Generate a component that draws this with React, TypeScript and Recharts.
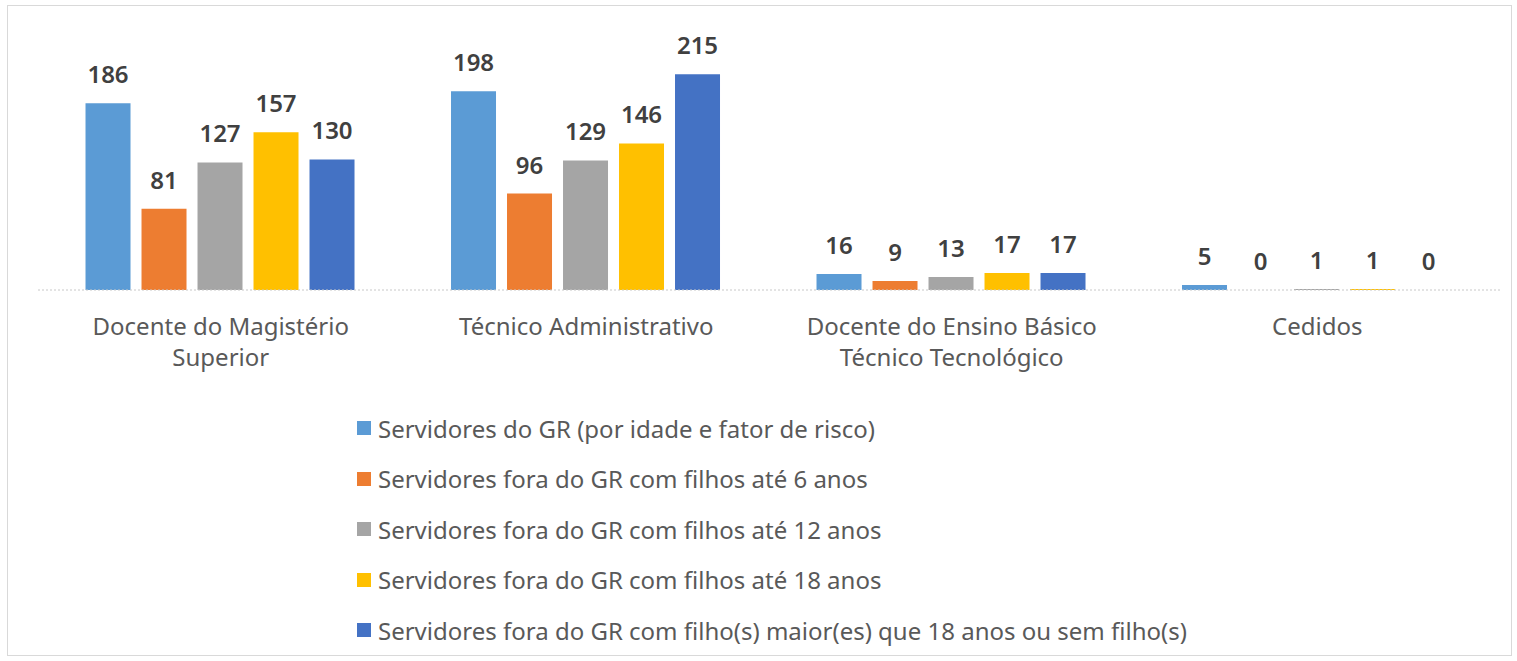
import React from 'react';
import { BarChart, Bar, XAxis, YAxis, LabelList, Legend } from 'recharts';

const categories = [
  'Docente do Magistério Superior',
  'Técnico Administrativo',
  'Docente do Ensino Básico Técnico Tecnológico',
  'Cedidos',
];

const tickLines = [
  ['Docente do Magistério', 'Superior'],
  ['Técnico Administrativo'],
  ['Docente do Ensino Básico', 'Técnico Tecnológico'],
  ['Cedidos'],
];

const seriesNames = [
  'Servidores do GR (por idade e fator de risco)',
  'Servidores fora do GR com filhos até 6 anos',
  'Servidores fora do GR com filhos até 12 anos',
  'Servidores fora do GR com filhos até 18 anos',
  'Servidores fora do GR com filho(s) maior(es) que 18 anos ou sem filho(s)',
];

const grupoRisco = [186, 198, 16, 5];
const filhos6 = [81, 96, 9, 0];
const filhos12 = [127, 129, 13, 1];
const filhos18 = [157, 146, 17, 1];
const semFilhos = [130, 215, 17, 0];

const colors = ['#5B9BD5', '#ED7D31', '#A5A5A5', '#FFC000', '#4472C4'];

const data = categories.map((name, i) => ({
  name,
  s0: grupoRisco[i],
  s1: filhos6[i],
  s2: filhos12[i],
  s3: filhos18[i],
  s4: semFilhos[i],
}));

const FONT = "'Noto Sans', sans-serif";

const CategoryTick = (props: any) => {
  const { x, y, index } = props;
  const lines = tickLines[index] || [];
  return (
    <g transform={`translate(${x},${y})`}>
      {lines.map((line, i) => (
        <text
          key={i}
          x={0}
          y={37 + i * 31}
          textAnchor="middle"
          fill="#595959"
          fontSize={24}
          fontFamily={FONT}
        >
          {line}
        </text>
      ))}
    </g>
  );
};

// labels drawn by hand so zero values still show
const ValueLabel = (props: any) => {
  const { x, y, width, height, value } = props;
  const top = Math.min(Number(y), Number(y) + Number(height || 0));
  return (
    <text
      x={Number(x) + Number(width) / 2}
      y={top - 20}
      textAnchor="middle"
      fill="#404040"
      fontSize={24}
      fontWeight={600}
      fontFamily={FONT}
    >
      {value}
    </text>
  );
};

// zero bars get a hair of height so recharts keeps them (and their label)
const zeroKeep = (v: any) => (Number(v) === 0 ? 0.01 : 0);

const LegendContent = () => (
  <div style={{ fontFamily: FONT, fontSize: 24, color: '#595959' }}>
    {seriesNames.map((name, i) => (
      <div key={i} style={{ height: 50.5, display: 'flex', alignItems: 'center', whiteSpace: 'nowrap' }}>
        <span
          style={{
            display: 'inline-block',
            width: 14,
            height: 14,
            background: colors[i],
            marginRight: 7,
          }}
        />
        {name}
      </div>
    ))}
  </div>
);

export default function App() {
  return (
    <div style={{ position: 'absolute', left: 0, top: 0, width: 1517, height: 661, background: '#fff' }}>
      <div
        style={{
          position: 'absolute',
          left: 7,
          top: 5,
          width: 1503,
          height: 649,
          border: '1.5px solid #d9d9d9',
        }}
      />
      <div style={{ position: 'absolute', left: 0, top: 0 }}>
        <BarChart
          width={1517}
          height={661}
          data={data}
          margin={{ top: 39, right: 17, left: 38, bottom: 311 }}
          barCategoryGap="13%"
          barGap={11}
        >
          <XAxis
            dataKey="name"
            height={60}
            tickLine={false}
            axisLine={{ stroke: '#c8c8c8', strokeDasharray: '2 2' }}
            tick={<CategoryTick />}
            interval={0}
          />
          <YAxis hide domain={[0, 250]} />
          <Legend
            layout="vertical"
            align="center"
            verticalAlign="middle"
            content={<LegendContent />}
            wrapperStyle={{ left: 357, top: 403, width: 1000 }}
          />
          {colors.map((c, i) => (
            <Bar
              key={i}
              dataKey={`s${i}`}
              name={seriesNames[i]}
              fill={c}
              minPointSize={zeroKeep}
              isAnimationActive={false}
            >
              <LabelList dataKey={`s${i}`} content={<ValueLabel />} />
            </Bar>
          ))}
        </BarChart>
      </div>
    </div>
  );
}
